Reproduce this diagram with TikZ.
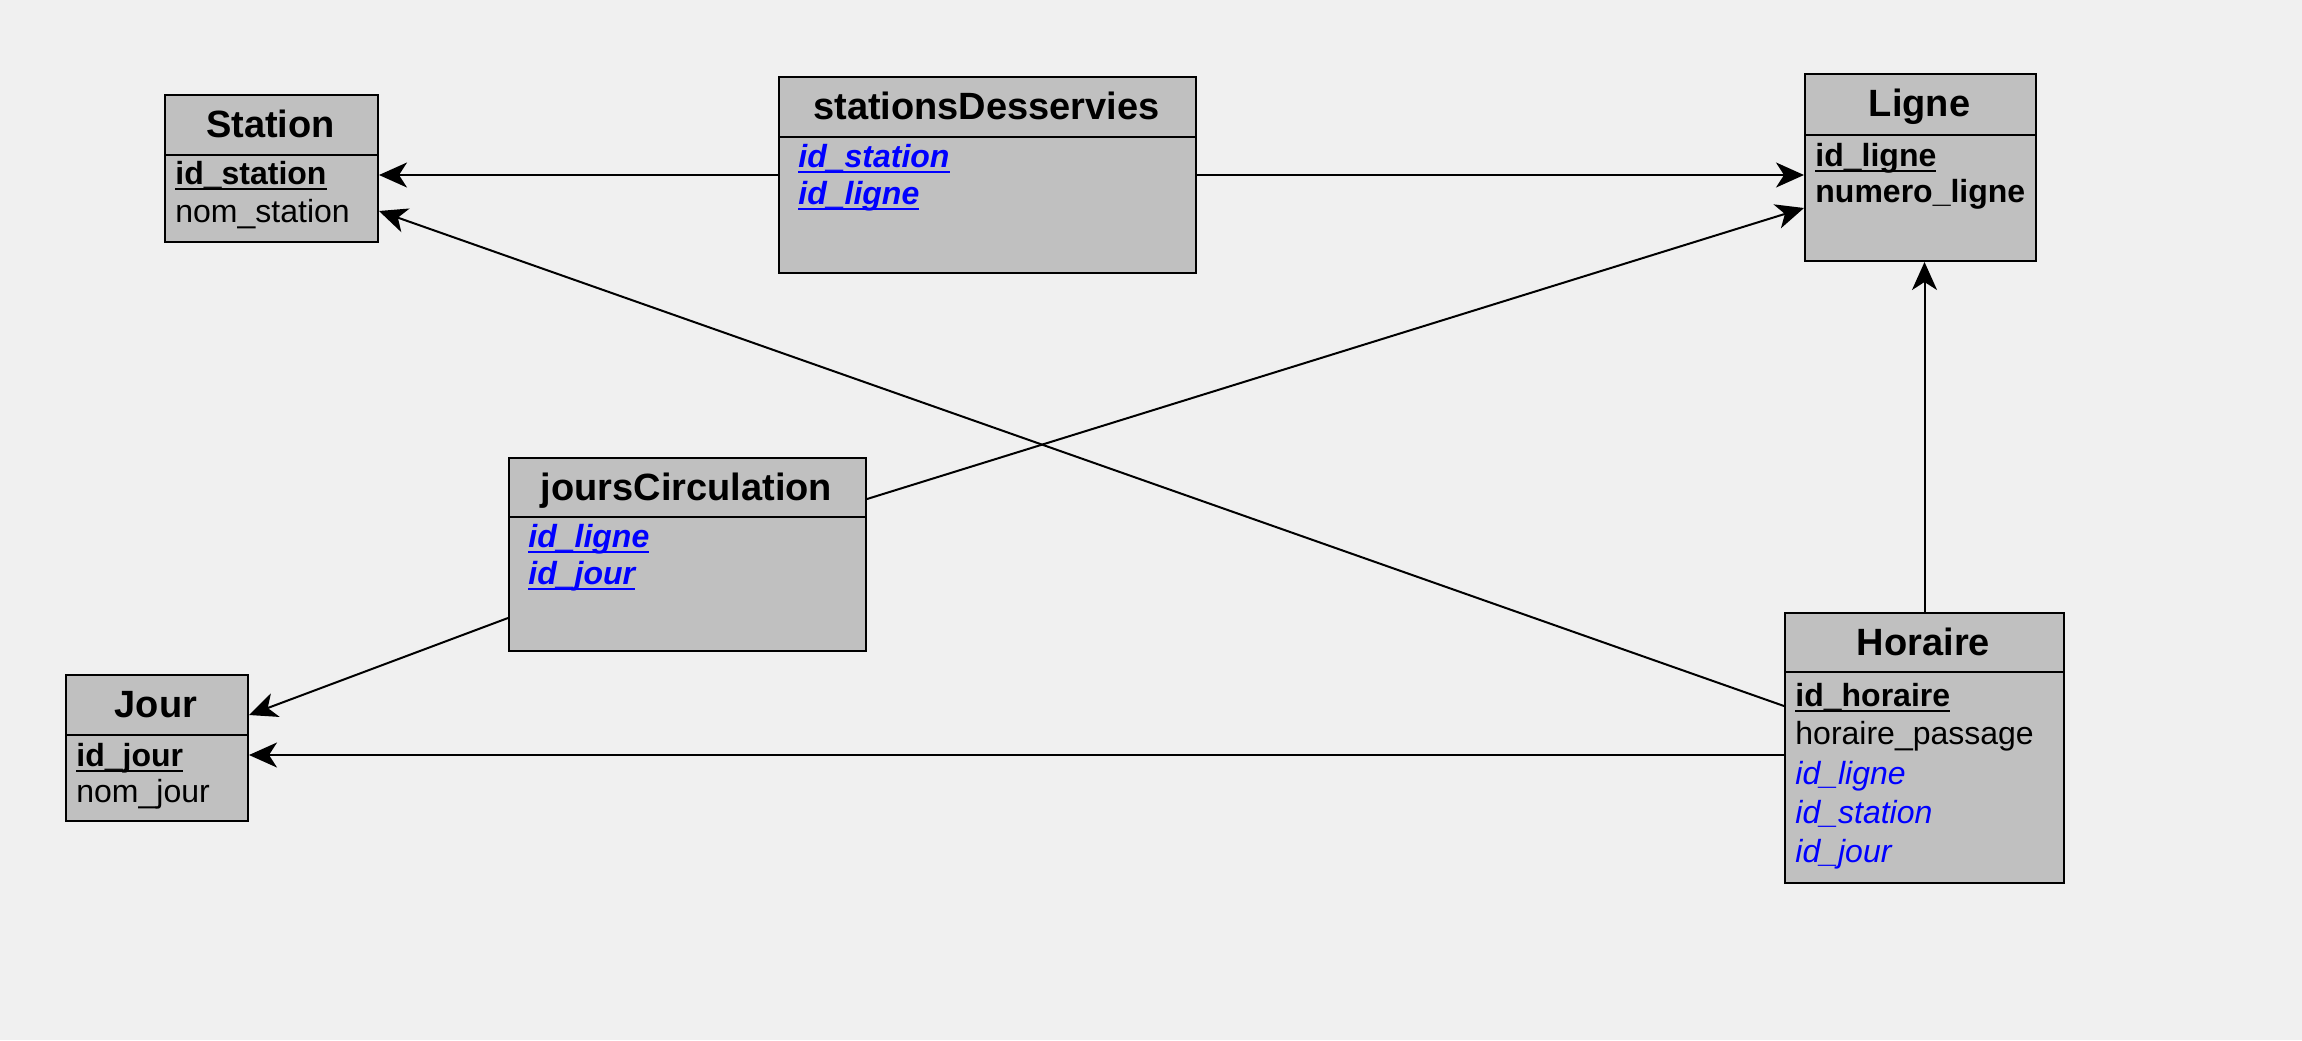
\documentclass[tikz,border=0pt]{standalone}
\usepackage{fontspec}
\setmainfont{Liberation Sans}
\usetikzlibrary{arrows.meta}
\definecolor{bggrey}{HTML}{F0F0F0}
\definecolor{boxgrey}{HTML}{C0C0C0}
\definecolor{fkblue}{HTML}{0000FF}
\newcommand{\keyul}[1]{\setbox0=\hbox{#1}\rlap{\rule[-3pt]{\wd0}{1pt}}\box0}
\tikzset{>={Stealth[length=14pt,width=12.5pt,inset=4pt]}}
\tikzset{
	% table boxes
	entity/.style={draw=black,fill=boxgrey,line width=1pt,inner sep=0pt,anchor=north west},
	title/.style={anchor=base,inner sep=0pt,font=\fontsize{19}{22}\selectfont\bfseries},
	% attributes
	attr/.style={anchor=mid west,inner sep=0pt,font=\fontsize{16}{19}\selectfont},
	pk/.style={attr,font=\fontsize{16}{19}\selectfont\bfseries},
	fk/.style={attr,text=fkblue,font=\fontsize{16}{19}\selectfont\itshape},
	fkpk/.style={attr,text=fkblue,font=\fontsize{16}{19}\selectfont\bfseries\itshape},
	% connectors
	link/.style={->,line width=1pt},
}

\begin{document}
\begin{tikzpicture}[x=0.5pt,y=-0.5pt]
	\fill[bggrey] (0,0) rectangle (2302,1040);
	\useasboundingbox (0,0) rectangle (2302,1040);
	
	% Station
	\node[entity,minimum width=106.5pt,minimum height=73.5pt] (st) at (164,94) {};
	\draw[line width=1pt] (st.north west) ++(0,61) -- ++(213,0);
	\node[title] (st_t) at (270.5,137) {Station};
	\node[pk] (st_id) at (175,179) {\keyul{id\_station}};
	\node[attr] (st_nom) at (175,217) {nom\_station};
	
	% stationsDesservies
	\node[entity,minimum width=208.5pt,minimum height=98pt] (sd) at (778,76) {};
	\draw[line width=1pt] (sd.north west) ++(0,61) -- ++(417,0);
	\node[title] (sd_t) at (986.5,119) {stationsDesservies};
	\node[fkpk] (sd_st) at (798,162) {\keyul{id\_station}};
	\node[fkpk] (sd_li) at (798,199) {\keyul{id\_ligne}};
	
	% Ligne
	\node[entity,minimum width=115.5pt,minimum height=93.5pt] (li) at (1804,73) {};
	\draw[line width=1pt] (li.north west) ++(0,62) -- ++(231,0);
	\node[title] (li_t) at (1919.5,116) {Ligne};
	\node[pk] (li_id) at (1815,161) {\keyul{id\_ligne}};
	\node[pk] (li_num) at (1815,197) {numero\_ligne};
	
	% joursCirculation
	\node[entity,minimum width=178.5pt,minimum height=96.5pt] (jc) at (508,457) {};
	\draw[line width=1pt] (jc.north west) ++(0,60) -- ++(357,0);
	\node[title] (jc_t) at (686.5,500) {joursCirculation};
	\node[fkpk] (jc_li) at (528,542) {\keyul{id\_ligne}};
	\node[fkpk] (jc_jo) at (528,579) {\keyul{id\_jour}};
	
	% Jour
	\node[entity,minimum width=91pt,minimum height=73pt] (jo) at (65,674) {};
	\draw[line width=1pt] (jo.north west) ++(0,61) -- ++(182,0);
	\node[title] (jo_t) at (156,717) {Jour};
	\node[pk] (jo_id) at (76,761) {\keyul{id\_jour}};
	\node[attr] (jo_nom) at (76,797) {nom\_jour};
	
	% Horaire
	\node[entity,minimum width=139.5pt,minimum height=135pt] (ho) at (1784,612) {};
	\draw[line width=1pt] (ho.north west) ++(0,60) -- ++(279,0);
	\node[title] (ho_t) at (1923.5,655) {Horaire};
	\node[pk] (ho_id) at (1795,701) {\keyul{id\_horaire}};
	\node[attr] (ho_pas) at (1795,739) {horaire\_passage};
	\node[fk] (ho_li) at (1795,779) {id\_ligne};
	\node[fk] (ho_st) at (1795,818) {id\_station};
	\node[fk] (ho_jo) at (1795,857) {id\_jour};
	
	% references
	\draw[link] ([yshift=-49.5pt]sd.north west) -- ([yshift=-40.5pt]st.north east);
	\draw[link] ([yshift=-49.5pt]sd.north east) -- ([yshift=-51pt]li.north west);
	\draw[link] ([yshift=-47pt]ho.north west) -- ([yshift=-58.5pt]st.north east);
	\draw[link] ([yshift=-21pt]jc.north east) -- ([yshift=-67.5pt]li.north west);
	\draw[link] ([yshift=-80.5pt]jc.north west) -- ([yshift=-20.5pt]jo.north east);
	\draw[link] ([yshift=-71.5pt]ho.north west) -- ([yshift=-40.5pt]jo.north east);
	\draw[link] (ho.north) -- (ho.north |- li.south);
	
\end{tikzpicture}
\end{document}
